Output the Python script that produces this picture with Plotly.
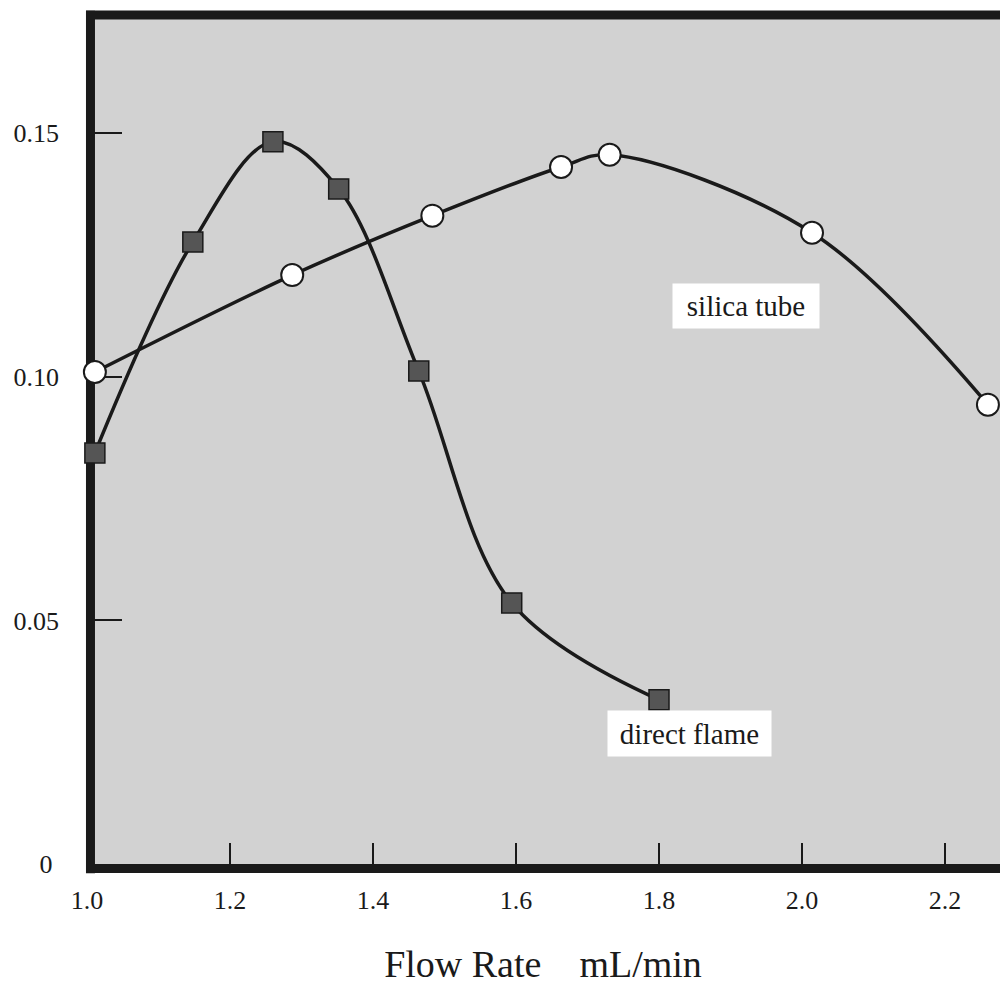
import plotly.graph_objects as go

# Direct flame (filled squares)
df_x = [1.011, 1.148, 1.260, 1.352, 1.464, 1.594, 1.800]
df_y = [0.0844, 0.1277, 0.1483, 0.1386, 0.1012, 0.0536, 0.0337]

# Silica tube (open circles)
st_x = [1.011, 1.287, 1.483, 1.663, 1.731, 2.014, 2.260]
st_y = [0.1010, 0.1209, 0.1331, 0.1431, 0.1456, 0.1296, 0.0943]

x_ticks = [1.0, 1.2, 1.4, 1.6, 1.8, 2.0, 2.2]
x_tick_text = ["1.0", "1.2", "1.4", "1.6", "1.8", "2.0", "2.2"]
y_ticks = [0, 0.05, 0.10, 0.15]
y_tick_text = ["0\u00a0", "0.05", "0.10", "0.15"]

FONT = "Liberation Serif, Times New Roman, serif"
INK = "#1a1a1a"

fig = go.Figure()

fig.add_trace(go.Scatter(
    x=st_x, y=st_y, mode="lines+markers", name="silica tube",
    line=dict(color=INK, width=3.5, shape="spline", smoothing=1.0),
    marker=dict(symbol="circle", size=22, color="white",
                line=dict(color=INK, width=2)),
    cliponaxis=False,
))

fig.add_trace(go.Scatter(
    x=df_x, y=df_y, mode="lines+markers", name="direct flame",
    line=dict(color=INK, width=3.5, shape="spline", smoothing=1.0),
    marker=dict(symbol="square", size=20, color="#555555",
                line=dict(color=INK, width=1.5)),
    cliponaxis=False,
))

fig.add_annotation(x=1.922, y=0.1146, text="silica tube", showarrow=False,
                   font=dict(family=FONT, size=29, color=INK),
                   bgcolor="white", borderpad=4, width=138, height=36)
fig.add_annotation(x=1.842, y=0.0267, text="direct flame", showarrow=False,
                   font=dict(family=FONT, size=29, color=INK),
                   bgcolor="white", borderpad=4, width=155, height=37)

# frame: left and top edges (drawn beneath the markers)
fig.add_shape(type="line", xref="paper", yref="paper", x0=0.0049, x1=0.0049,
              y0=-0.011, y1=1.005, line=dict(color=INK, width=9), layer="below")
fig.add_shape(type="line", xref="paper", yref="paper", x0=0.0, x1=1.0,
              y0=1, y1=1, line=dict(color=INK, width=9), layer="below")

fig.update_layout(
    width=1000, height=1001,
    margin=dict(l=86, r=0, t=15, b=137),
    paper_bgcolor="white",
    plot_bgcolor="#d2d2d2",
    showlegend=False,
    font=dict(family=FONT, color=INK),
)

fig.update_xaxes(
    range=[0.9986, 2.2769],
    tickmode="array", tickvals=x_ticks, ticktext=x_tick_text,
    ticks="inside", ticklen=21, tickwidth=2, tickcolor=INK,
    showline=True, linewidth=9, linecolor=INK,
    showgrid=False, zeroline=False, layer="below traces",
    tickfont=dict(family=FONT, size=26, color=INK),
    ticklabelstandoff=5,
    title=dict(text="Flow Rate\u00a0\u00a0\u00a0\u00a0mL/min",
               font=dict(family=FONT, size=38, color=INK), standoff=40),
)

fig.update_yaxes(
    range=[0, 0.1743],
    tickmode="array", tickvals=y_ticks, ticktext=y_tick_text,
    ticks="inside", ticklen=36, tickwidth=2, tickcolor=INK,
    showline=False,
    showgrid=False, zeroline=False, layer="below traces",
    tickfont=dict(family=FONT, size=26, color=INK),
    ticklabelstandoff=26,
)

fig.write_html("out.html")
